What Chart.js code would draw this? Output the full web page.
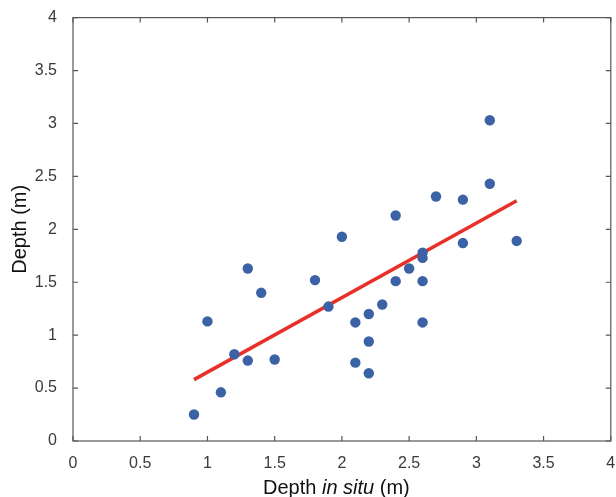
<!DOCTYPE html>
<html>
<head>
<meta charset="utf-8">
<script src="https://cdn.jsdelivr.net/npm/chart.js@4"></script>
<style>
  body { margin: 0; background: #fff; }
  #wrap { position: relative; width: 616px; height: 497px; }
  #xTitle {
    position: absolute; left: 263px; top: 475px;
    font: 20px "Liberation Sans", Arial, sans-serif; color: #111;
    line-height: 24px; white-space: nowrap;
  }
</style>
</head>
<body>
<div id="wrap">
  <canvas id="chartDepth" width="616" height="497"></canvas>
  <div id="xTitle">Depth <i>in situ</i> (m)</div>
</div>
<script>
// data
const depthInSitu = [0.9, 1.1, 1.0, 1.2, 1.3, 1.3, 1.4, 1.5, 1.8, 1.9, 2.0, 2.1, 2.1, 2.2, 2.2, 2.2, 2.3, 2.4, 2.4, 2.5, 2.6, 2.6, 2.6, 2.6, 2.7, 2.9, 2.9, 3.1, 3.1, 3.3];
const depthMeasured = [0.25, 0.46, 1.13, 0.82, 0.76, 1.63, 1.40, 0.77, 1.52, 1.27, 1.93, 1.12, 0.74, 1.20, 0.94, 0.64, 1.29, 2.13, 1.51, 1.63, 1.78, 1.73, 1.51, 1.12, 2.31, 2.28, 1.87, 3.03, 2.43, 1.89];

// garis regresi (ujung-ujungnya)
const fitX = [0.9, 3.3];
const fitY = [0.58, 2.27];

const axisTicks = [0, 0.5, 1, 1.5, 2, 2.5, 3, 3.5, 4];

const points = depthInSitu.map((x, i) => ({ x: x, y: depthMeasured[i] }));
const fitLine = fitX.map((x, i) => ({ x: x, y: fitY[i] }));

// kotak sumbu dengan tick ke dalam (gaya MATLAB)
const boxPlugin = {
    id: 'boxTicks',
    afterDraw(chart) {
        const { ctx, chartArea: a, scales } = chart;
        ctx.save();
        ctx.strokeStyle = '#5a5552';
        ctx.lineWidth = 1.2;
        ctx.strokeRect(a.left, a.top, a.right - a.left, a.bottom - a.top);
        const len = 5;
        ctx.beginPath();
        axisTicks.forEach(v => {
            const px = scales.x.getPixelForValue(v);
            ctx.moveTo(px, a.bottom); ctx.lineTo(px, a.bottom - len);
            ctx.moveTo(px, a.top); ctx.lineTo(px, a.top + len);
            const py = scales.y.getPixelForValue(v);
            ctx.moveTo(a.left, py); ctx.lineTo(a.left + len, py);
            ctx.moveTo(a.right, py); ctx.lineTo(a.right - len, py);
        });
        ctx.stroke();
        ctx.restore();
    }
};

const tickFont = { family: '"Liberation Sans", Arial, sans-serif', size: 16 };
const fmt = v => String(v);

const chart = new Chart(document.getElementById('chartDepth').getContext('2d'), {
    type: 'scatter',
    data: {
        datasets: [{
            label: 'Data',
            data: points,
            backgroundColor: '#3b62a5',
            borderWidth: 0,
            pointRadius: 5.2
        }, {
            type: 'line',
            label: 'Fit',
            data: fitLine,
            borderColor: '#e8302a',
            borderWidth: 3.5,
            pointRadius: 0,
            fill: false
        }]
    },
    options: {
        responsive: false,
        animation: false,
        events: [],
        layout: { padding: { top: 17, right: 4, left: 0, bottom: 0 } },
        plugins: { legend: { display: false }, tooltip: { enabled: false } },
        scales: {
            x: {
                type: 'linear',
                min: 0, max: 4,
                afterBuildTicks: s => { s.ticks = axisTicks.map(v => ({ value: v })); },
                afterFit: s => { s.height = 56; s.paddingRight = 0; s.paddingLeft = 0; },
                grid: { display: false },
                border: { display: false },
                ticks: { font: tickFont, color: '#3a3a3a', padding: 5, maxRotation: 0, callback: fmt }
            },
            y: {
                min: 0, max: 4,
                afterBuildTicks: s => { s.ticks = axisTicks.map(v => ({ value: v })); },
                afterFit: s => { s.width = 73; },
                grid: { display: false },
                border: { display: false },
                ticks: { font: tickFont, color: '#3a3a3a', padding: 8, callback: fmt },
                title: {
                    display: true,
                    text: 'Depth (m)',
                    color: '#111',
                    font: { family: '"Liberation Sans", Arial, sans-serif', size: 20 },
                    padding: { top: 8, bottom: 0 }
                }
            }
        }
    },
    plugins: [boxPlugin]
});
</script>
</body>
</html>
